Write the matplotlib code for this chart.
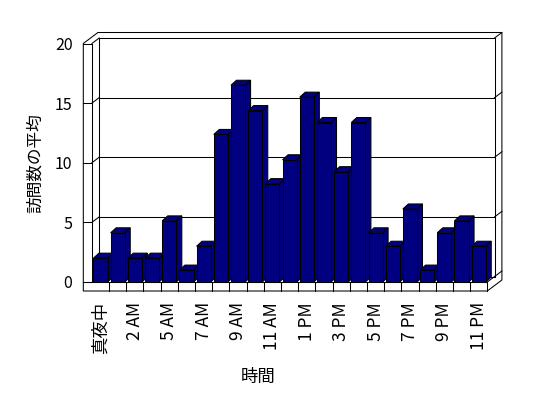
import matplotlib
matplotlib.use("Agg")
import matplotlib.pyplot as plt
from matplotlib.patches import Polygon

plt.rcParams['font.family'] = ['Noto Sans CJK JP', 'DejaVu Sans']

# ---- data ----
categories = ["真夜中", "1 AM", "2 AM", "3 AM", "5 AM", "6 AM", "7 AM", "8 AM",
              "9 AM", "10 AM", "11 AM", "正午", "1 PM", "2 PM", "3 PM", "4 PM",
              "5 PM", "6 PM", "7 PM", "8 PM", "9 PM", "10 PM", "11 PM"]
values = [2, 4.125, 2, 2, 5.125, 1, 3, 12.375, 16.5, 14.375, 8.25, 10.25,
          15.5, 13.375, 9.25, 13.375, 4.125, 3, 6.125, 1, 4.125, 5.125, 3]
yticks = [0, 5, 10, 15, 20]
ylabel = "訪問数の平均"
xlabel = "時間"

# ---- style ----
BAR = "#000080"
EDGE = "black"
LW = 0.75
W, H = 548, 398
x_left, x_right, y0, y20 = 91.9, 487.3, 282.0, 43.5

fig = plt.figure(figsize=(W / 100, H / 100), dpi=100)
ax = fig.add_axes([x_left / W, (H - y0) / H, (x_right - x_left) / W, (y0 - y20) / H])
n = len(categories)
ax.set_xlim(-0.5, n - 0.5)
ax.set_ylim(0, 20)
for s in ax.spines.values():
    s.set_visible(False)
ax.patch.set_visible(False)

# depth offsets (data units)
px_x = (x_right - x_left) / n
px_y = (y0 - y20) / 20
wdx, wdy = 7.3 / px_x, 5.5 / px_y      # wall depth
bdx, bdy = 5.5 / px_x, 5.0 / px_y      # bar depth
side_t = 8.6 / px_x                     # side wall thickness
floor_t = 9.0 / px_y                    # floor thickness
L, R = -0.5, n - 0.5
top = yticks[-1]

def line(xs, ys, z=2):
    ax.plot(xs, ys, color=EDGE, lw=LW, clip_on=False, zorder=z, solid_capstyle='projecting')

# outer silhouette (white)
sil = Polygon([(L - side_t, -floor_t), (R, -floor_t), (R + 2 * wdx, -floor_t + 2 * wdy),
               (R + 2 * wdx, top + 2 * wdy), (L - side_t + 2 * wdx, top + 2 * wdy),
               (L - side_t, top)], closed=True, facecolor="white", edgecolor=EDGE,
              lw=LW, clip_on=False, zorder=1)
ax.add_patch(sil)

# side wall
line([L, L], [0, top])
line([L - side_t, L], [top, top])
line([L, L + wdx], [top, top + wdy])
# back wall inner rectangle
line([L + wdx, L + wdx, R + wdx, R + wdx], [wdy, top + wdy, top + wdy, wdy])
line([R + wdx, R + 2 * wdx], [top + wdy, top + 2 * wdy])
# floor
line([L - side_t, R], [0, 0])
line([R, R], [-floor_t, 0])
line([R, R + wdx], [0, wdy])
line([L + wdx, R + wdx], [wdy, wdy])
for k in range(1, n):
    line([k - 0.5, k - 0.5], [-floor_t, 0])

# gridlines on walls
for v in yticks[1:-1]:
    line([L + wdx, R + wdx], [v + wdy, v + wdy])
    line([L, L + wdx], [v, v + wdy])
for v in yticks[:-1]:
    line([L - side_t, L], [v, v])
    line([R + wdx, R + 2 * wdx], [v + wdy, v + 2 * wdy])

# bars
hw = 0.41
bars = ax.bar(range(n), values, width=2 * hw, color=BAR, edgecolor=EDGE, linewidth=LW)
for i, (p, v) in enumerate(zip(bars, values)):
    z = 3 + 2 * i
    p.set_zorder(z + 1)
    p.set_clip_on(False)
    c = i
    topf = Polygon([(c - hw, v), (c + hw, v), (c + hw + bdx, v + bdy), (c - hw + bdx, v + bdy)],
                   closed=True, facecolor=BAR, edgecolor=EDGE, lw=LW, zorder=z, clip_on=False)
    side = Polygon([(c + hw, 0), (c + hw, v), (c + hw + bdx, v + bdy), (c + hw + bdx, bdy)],
                   closed=True, facecolor=BAR, edgecolor=EDGE, lw=LW, zorder=z, clip_on=False)
    ax.add_patch(side)
    ax.add_patch(topf)

# ticks and labels
ax.set_yticks(yticks)
ax.set_yticklabels([str(t) for t in yticks], fontsize=11.5)
ax.set_xticks(range(0, n, 2))
ax.set_xticklabels(categories[::2], rotation=90, fontsize=12.5)
ax.tick_params(axis='y', length=0, pad=14)
ax.tick_params(axis='x', length=0, pad=14.5)
ax.set_ylabel(ylabel, fontsize=12)
ax.yaxis.set_label_coords((44 - x_left) / (x_right - x_left), 0.5)
ax.set_xlabel(xlabel, fontsize=12.5)
ax.xaxis.set_label_coords((258 - x_left) / (x_right - x_left), (y0 - 368) / (y0 - y20))

fig.savefig("out.png", dpi=100)
